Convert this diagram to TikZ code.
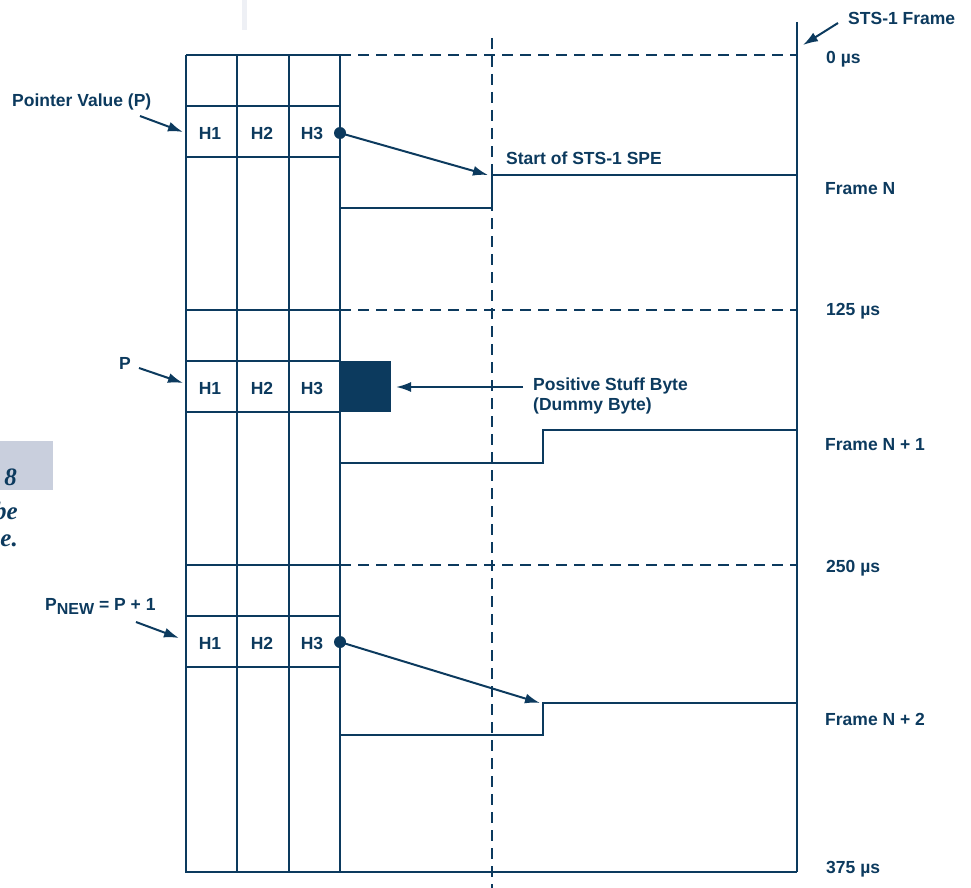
\documentclass[tikz,border=0pt]{standalone}
\usepackage{fontspec}
\setmainfont{Liberation Sans}
\newfontfamily\capfont{Liberation Serif}
\usetikzlibrary{arrows.meta}
\definecolor{navy}{HTML}{0C3A5E}
\definecolor{capgray}{HTML}{C9CFDD}
\definecolor{faint}{HTML}{EEF0F5}
\tikzset{
  ln/.style={draw=navy, line width=2pt},
  dsh/.style={draw=navy, line width=2pt, dash pattern=on 11pt off 7pt},
  arr/.style={draw=navy, line width=2pt, -{Latex[length=15pt,width=10pt]}},
  lbl/.style={text=navy, font=\fontsize{17.5}{20}\selectfont\bfseries, inner sep=0pt},
  hlbl/.style={lbl},
  captxt/.style={text=navy, font=\capfont\fontsize{25}{27}\selectfont\bfseries\itshape, inner sep=0pt},
  dotn/.style={circle, fill=navy, inner sep=0pt, minimum size=12pt}
}
\begin{document}
\begin{tikzpicture}[x=1pt,y=-1pt]
\useasboundingbox (0,0) rectangle (971,888);
% faint artifact and caption box
\fill[faint] (242,0) rectangle (247,30);
\fill[capgray] (0,441) rectangle (53,490);
\node[captxt, anchor=east] (c8) at (17,477) {8};
\node[captxt, anchor=east] (cbe) at (18,511) {be};
\node[captxt, anchor=east] (ce) at (18,541) {e.};

% grid
\draw[ln] (186,55) -- (340,55);
\draw[ln] (186,55) -- (186,872) -- (797,872);
\foreach \x in {237,289,340} \draw[ln] (\x,55) -- (\x,872);
\foreach \y in {106,157,310,361,412,565,616,667} \draw[ln] (186,\y) -- (340,\y);
% dashed lines
\foreach \y in {55,310,565} \draw[dsh] (340,\y) -- (797,\y);
\draw[dsh] (492,38) -- (492,888);
% frame line
\draw[ln] (797,22) -- (797,872);

% H labels
\foreach \r/\y in {1/133,2/388,3/643}{
  \node[hlbl] (h1\r) at (210,\y) {H1};
  \node[hlbl] (h2\r) at (262,\y) {H2};
  \node[hlbl] (h3\r) at (312,\y) {H3};
}

% Frame N
\node[dotn] (d1) at (340,133) {};
\coordinate (t1) at (488,175);
\draw[arr] (d1.center) -- (t1);
\draw[ln] (340,208) -- (492,208) -- (492,175) -- (797,175);
\node[lbl, anchor=west] (spe) at (506,158) {Start of STS-1 SPE};

% Frame N+1
\node[fill=navy, minimum width=51pt, minimum height=51pt, inner sep=0pt, anchor=north west] (stuff) at (340,361) {};
\node[lbl, anchor=north west, align=left] (psb) at (533,378) {Positive Stuff Byte\\(Dummy Byte)};
\coordinate (psbt) at (523,387);
\coordinate (psbh) at (396,387);
\draw[arr] (psbt) -- (psbh);
\draw[ln] (340,463) -- (543,463) -- (543,430) -- (797,430);

% Frame N+2
\node[dotn] (d3) at (340,642) {};
\coordinate (t3) at (540,703);
\draw[arr] (d3.center) -- (t3);
\draw[ln] (340,735) -- (543,735) -- (543,703) -- (797,703);

% left labels
\node[lbl, anchor=west] (pv) at (12,102) {Pointer Value (P)};
\coordinate (pva) at (140,116);
\coordinate (pvb) at (183,132);
\draw[arr] (pva) -- (pvb);
\node[lbl] (p) at (125,363) {P};
\coordinate (pa) at (139,368);
\coordinate (pb) at (183,383);
\draw[arr] (pa) -- (pb);
\node[lbl, anchor=west] (pnew) at (45,606) {P\raisebox{-4pt}{\fontsize{16}{16}\selectfont NEW} = P + 1};
\coordinate (pna) at (136,622);
\coordinate (pnb) at (179,638);
\draw[arr] (pna) -- (pnb);

% right labels
\node[lbl, anchor=west] (sts) at (848,18) {STS-1 Frame};
\coordinate (stsa) at (838,23);
\coordinate (stsb) at (803,45);
\draw[arr] (stsa) -- (stsb);
\node[lbl, anchor=west] (l0) at (826,59) {0 µs};
\node[lbl, anchor=west] (fn) at (825,189) {Frame N};
\node[lbl, anchor=west] (l125) at (826,311) {125 µs};
\node[lbl, anchor=west] (fn1) at (825,445) {Frame N + 1};
\node[lbl, anchor=west] (l250) at (826,568) {250 µs};
\node[lbl, anchor=west] (fn2) at (825,719) {Frame N + 2};
\node[lbl, anchor=west] (l375) at (826,869) {375 µs};
\end{tikzpicture}
\end{document}
